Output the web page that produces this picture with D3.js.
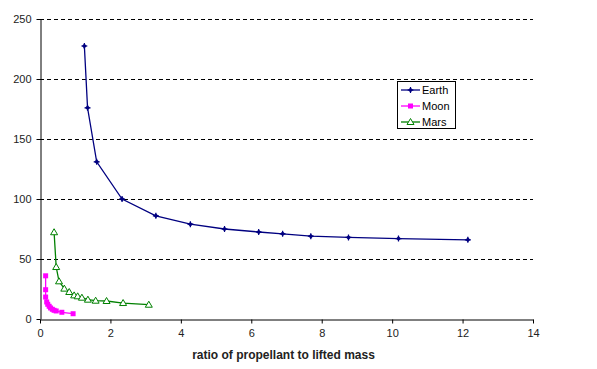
<!DOCTYPE html>
<html><head><meta charset="utf-8">
<script src="https://cdn.jsdelivr.net/npm/d3@7"></script>
<style>body{margin:0;background:#fff}svg{display:block}text{font-family:"Liberation Sans",Arial,sans-serif}</style>
</head><body><svg id="c" width="597" height="369"></svg>
<script>
const earthX = [1.26,1.35,1.61,2.33,3.29,4.27,5.24,6.21,6.89,7.69,8.76,10.18,12.15];
const earthY = [227.5,176,131,100,86,79,75,72.5,71,69,68,67,66];
const moonX = [0.16,0.16,0.16,0.19,0.22,0.26,0.30,0.35,0.40,0.46,0.62,0.94];
const moonY = [36,24.4,18.3,14.2,12.25,10.6,9.2,8.1,7.25,6.7,5.6,4.4];
const marsX = [0.40,0.46,0.54,0.69,0.83,0.97,1.07,1.19,1.36,1.58,1.89,2.36,3.09];
const marsY = [72.3,43.3,31.4,25.3,22.5,19.7,18.9,17.75,16.1,15.25,15,13.3,11.9];
const xTicks = [0,2,4,6,8,10,12,14];
const yTicks = [0,50,100,150,200,250];
const seriesNames = ["Earth","Moon","Mars"];
const colors = ["#000080","#FF00FF","#008000"];
const xTitle = "ratio of propellant to lifted mass";

const svg = d3.select("#c");
const x = d3.scaleLinear().domain([0,14]).range([40,533]);
const y = d3.scaleLinear().domain([0,250]).range([319,19]);

svg.append("g").selectAll("line").data(yTicks.filter(d=>d>0)).join("line")
  .attr("x1",x(0)).attr("x2",x(14)).attr("y1",d=>Math.round(y(d))+0.5).attr("y2",d=>Math.round(y(d))+0.5)
  .attr("stroke","#000").attr("stroke-dasharray","4,3");

const xa = svg.append("g").attr("transform",`translate(0,${Math.round(y(0))+0.5})`)
  .call(d3.axisBottom(x).tickValues(xTicks).tickSize(4).tickSizeOuter(0).tickPadding(6));
const ya = svg.append("g").attr("transform",`translate(${Math.round(x(0))+0.5},0)`)
  .call(d3.axisLeft(y).tickValues(yTicks).tickSize(4).tickSizeOuter(0).tickPadding(5));
[xa,ya].forEach(a=>{
  a.selectAll("text").attr("font-size","11px").attr("fill","#222").style("font-family","'Liberation Sans',Arial,sans-serif");
  a.select(".domain").attr("stroke","#000");
  a.selectAll(".tick line").attr("stroke","#000");
});

svg.append("text").attr("x",(x(0)+x(14))/2-3).attr("y",359).attr("text-anchor","middle")
  .attr("font-size","12px").attr("font-weight","bold").attr("fill","#222").text(xTitle);

const series = [
  {xs:earthX, ys:earthY},
  {xs:moonX, ys:moonY},
  {xs:marsX, ys:marsY}
];
const line = d3.line().x(d=>x(d[0])).y(d=>y(d[1]));

function marker(g, i, cx, cy){
  if(i===0){
    g.append("path").attr("d",`M${cx-2.5},${cy}L${cx},${cy-2.5}L${cx+2.5},${cy}L${cx},${cy+2.5}Z`).attr("fill",colors[0]);
    g.append("path").attr("d",`M${cx-3},${cy}H${cx+3}M${cx},${cy-3}V${cy+3}`).attr("stroke",colors[0]).attr("stroke-width",1.2);
  } else if(i===1){
    g.append("rect").attr("x",cx-2.5).attr("y",cy-2.5).attr("width",5).attr("height",5).attr("fill",colors[1]);
  } else {
    g.append("path").attr("d",`M${cx},${cy-3.5}L${cx+3.5},${cy+2.5}L${cx-3.5},${cy+2.5}Z`).attr("fill","#fff").attr("stroke",colors[2]).attr("stroke-width",1);
  }
}

series.forEach((s,i)=>{
  const pts = s.xs.map((v,j)=>[v,s.ys[j]]);
  svg.append("path").datum(pts).attr("d",line).attr("fill","none").attr("stroke",colors[i]).attr("stroke-width",1.3);
  const g = svg.append("g");
  pts.forEach(p=>marker(g,i,x(p[0]),y(p[1])));
});

const lg = svg.append("g");
lg.append("rect").attr("x",397.5).attr("y",81.5).attr("width",58).attr("height",47).attr("fill","#fff").attr("stroke","#000");
seriesNames.forEach((n,i)=>{
  const yy = 90 + i*16;
  lg.append("line").attr("x1",401).attr("x2",420).attr("y1",yy).attr("y2",yy).attr("stroke",colors[i]).attr("stroke-width",1.3);
  marker(lg,i,410.5,yy);
  lg.append("text").attr("x",422).attr("y",yy+4).attr("font-size","11px").attr("fill","#000").text(n);
});
</script></body></html>
